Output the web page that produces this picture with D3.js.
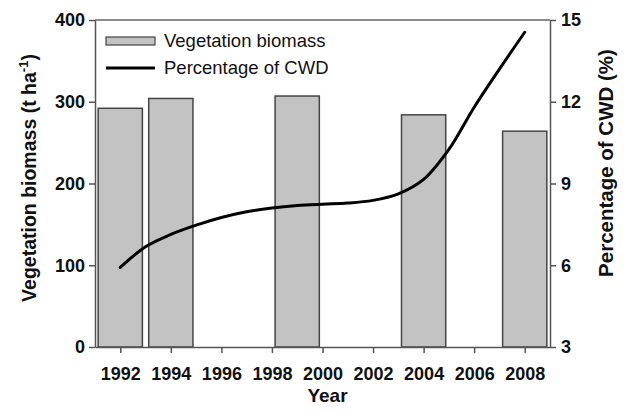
<!DOCTYPE html>
<html>
<head>
<meta charset="utf-8">
<script src="https://cdn.jsdelivr.net/npm/d3@7"></script>
<style>
  body { margin: 0; background: #fff; }
  svg { font-family: "Liberation Sans", Arial, sans-serif; }
</style>
</head>
<body>
<svg id="chart" width="628" height="410"></svg>
<script>
// bars: vegetation biomass (t/ha)
var barYears = [1992, 1994, 1999, 2004, 2008];
var biomass = [292, 304, 307, 284, 264];

// line: percentage of CWD (%)
var cwdYears = [1992, 1993, 1994, 1995, 1996, 1997, 1998, 1999, 2000, 2001, 2002, 2003, 2004, 2005, 2006, 2007, 2008];
var cwdPct = [5.92, 6.68, 7.13, 7.47, 7.75, 7.96, 8.1, 8.19, 8.24, 8.28, 8.38, 8.62, 9.15, 10.25, 11.8, 13.2, 14.55];

var xTicks = [1992, 1994, 1996, 1998, 2000, 2002, 2004, 2006, 2008];
var leftTicks = [0, 100, 200, 300, 400];
var rightTicks = [3, 6, 9, 12, 15];

var margin = { left: 95, right: 78, top: 20, bottom: 63 };
var svg = d3.select("#chart");
var width = +svg.attr("width") - margin.left - margin.right;
var height = +svg.attr("height") - margin.top - margin.bottom;
var g = svg.append("g").attr("transform", `translate(${margin.left}, ${margin.top})`);

var x = d3.scaleLinear().domain([1991, 2009]).range([0, width]);
var yL = d3.scaleLinear().domain([0, 400]).range([height, 0]);
var yR = d3.scaleLinear().domain([3, 15]).range([height, 0]);

var barW = x(1991 + 1.75) - x(1991);

// bars
g.selectAll("rect.bar")
  .data(barYears)
  .enter()
  .append("rect")
  .attr("class", "bar")
  .attr("x", d => x(d) - barW / 2)
  .attr("width", barW)
  .attr("y", (d, i) => yL(biomass[i]))
  .attr("height", (d, i) => height - yL(biomass[i]))
  .attr("fill", "#c3c3c3")
  .attr("stroke", "#444")
  .attr("stroke-width", 1.5);

// CWD curve
var line = d3.line()
  .x((d, i) => x(cwdYears[i]))
  .y(d => yR(d))
  .curve(d3.curveCatmullRom.alpha(0.5));

g.append("path")
  .datum(cwdPct)
  .attr("fill", "none")
  .attr("stroke", "#000")
  .attr("stroke-width", 3)
  .attr("stroke-linecap", "round")
  .attr("d", line);

// frame top
g.append("line")
  .attr("x1", 0).attr("x2", width)
  .attr("y1", 0).attr("y2", 0)
  .attr("stroke", "#666").attr("stroke-width", 1.5);

// axes
var fmt = d3.format("d");
var ax = g.append("g").attr("transform", `translate(0, ${height})`)
  .call(d3.axisBottom(x).tickValues(xTicks).tickFormat(fmt).tickSize(6).tickSizeOuter(0).tickPadding(14));
var al = g.append("g")
  .call(d3.axisLeft(yL).tickValues(leftTicks).tickSize(6).tickSizeOuter(0).tickPadding(4));
var ar = g.append("g").attr("transform", `translate(${width}, 0)`)
  .call(d3.axisRight(yR).tickValues(rightTicks).tickSize(6).tickSizeOuter(0).tickPadding(5));

[ax, al, ar].forEach(function (a) {
  a.select(".domain").attr("stroke", "#555").attr("stroke-width", 1.5);
  a.selectAll(".tick line").attr("stroke", "#555").attr("stroke-width", 1.5);
  a.selectAll(".tick text")
    .attr("fill", "#111")
    .style("font-size", "18px")
    .style("font-weight", "bold");
});

// axis titles
svg.append("text")
  .attr("x", margin.left + width / 2 + 5)
  .attr("y", 402)
  .attr("text-anchor", "middle")
  .style("font-size", "19px")
  .style("font-weight", "bold")
  .attr("fill", "#111")
  .text("Year");

var lt = svg.append("text")
  .attr("transform", "translate(36, 178) rotate(-90)")
  .attr("text-anchor", "middle")
  .style("font-size", "19.5px")
  .style("font-weight", "bold")
  .attr("fill", "#111");
lt.append("tspan").text("Vegetation biomass (t ha");
lt.append("tspan").attr("dy", -8).style("font-size", "13px").text("-1");
lt.append("tspan").attr("dy", 8).text(")");

svg.append("text")
  .attr("transform", "translate(613, 163) rotate(-90)")
  .attr("text-anchor", "middle")
  .style("font-size", "20.5px")
  .style("font-weight", "bold")
  .attr("fill", "#111")
  .text("Percentage of CWD (%)");

// legend
var leg = g.append("g").attr("transform", "translate(11, 17)");
leg.append("rect")
  .attr("x", 0).attr("y", 0).attr("width", 49).attr("height", 8)
  .attr("fill", "#c3c3c3").attr("stroke", "#444").attr("stroke-width", 1.2);
leg.append("text")
  .attr("x", 58).attr("y", 10)
  .style("font-size", "18.5px").attr("fill", "#111")
  .text("Vegetation biomass");
leg.append("line")
  .attr("x1", 0).attr("x2", 49).attr("y1", 31).attr("y2", 31)
  .attr("stroke", "#000").attr("stroke-width", 3);
leg.append("text")
  .attr("x", 58).attr("y", 37)
  .style("font-size", "18.5px").attr("fill", "#111")
  .text("Percentage of CWD");
</script>
</body>
</html>
